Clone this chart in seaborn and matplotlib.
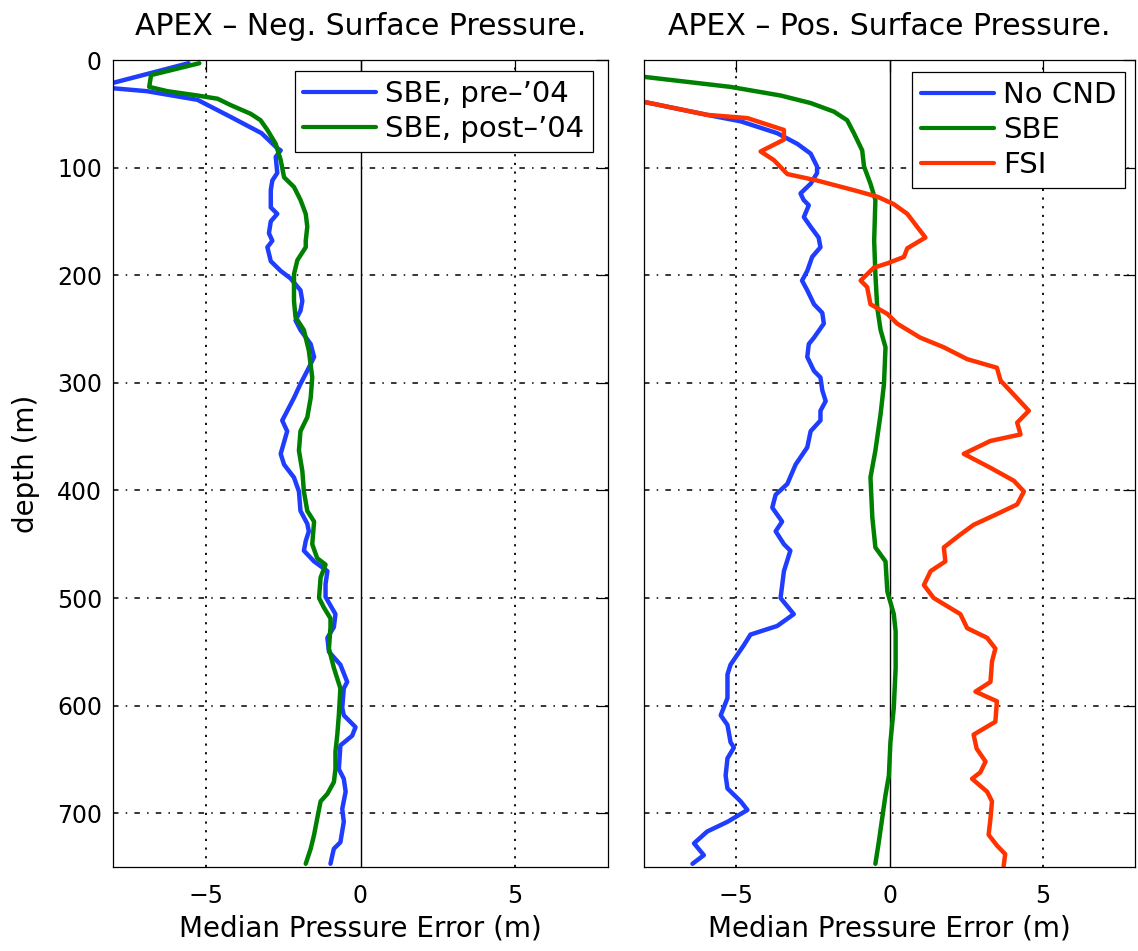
import matplotlib
matplotlib.use("Agg")
import matplotlib.pyplot as plt
import seaborn as sns

# --- left panel: APEX, negative surface pressure ---
neg_pre04_depth = [3, 25, 29, 37, 53, 68, 82, 84, 90, 105,
                   112, 121, 137, 143, 150, 161, 168, 174, 187, 196,
                   203, 214, 224, 233, 242, 251, 264, 276, 286, 301,
                   314, 329, 335, 345, 355, 366, 376, 388, 401, 419,
                   431, 438, 447, 456, 466, 475, 487, 499, 515, 527,
                   537, 550, 562, 578, 584, 602, 609, 620, 628, 637,
                   659, 668, 680, 696, 708, 727, 733, 739, 747]
neg_pre04_err = [-5.56, -8.5, -6.9, -5.27, -4.19, -3.2, -2.69, -2.58, -2.74, -2.69,
                 -2.85, -2.9, -2.9, -2.69, -2.9, -2.96, -2.85, -3.01, -2.9, -2.58,
                 -2.26, -1.94, -1.88, -1.94, -2.1, -1.94, -1.61, -1.5, -1.67, -1.94,
                 -2.15, -2.42, -2.53, -2.37, -2.47, -2.58, -2.47, -2.15, -1.99, -1.94,
                 -1.72, -1.67, -1.77, -1.83, -1.5, -1.07, -1.13, -1.13, -0.81, -0.86,
                 -1.07, -1.02, -0.65, -0.43, -0.54, -0.59, -0.54, -0.16, -0.27, -0.65,
                 -0.7, -0.54, -0.48, -0.59, -0.54, -0.65, -0.86, -0.91, -0.97]

neg_post04_depth = [3, 14, 25, 29, 33, 36, 42, 50, 56, 65,
                    78, 93, 109, 118, 130, 143, 155, 168, 174, 186,
                    199, 224, 239, 251, 270, 295, 314, 332, 345, 363,
                    382, 401, 419, 429, 450, 463, 469, 481, 500, 509,
                    519, 527, 547, 565, 584, 609, 627, 643, 659, 671,
                    682, 689, 705, 720, 733, 747]
neg_post04_err = [-5.21, -6.77, -6.83, -6.24, -5.27, -4.62, -4.19, -3.55, -3.23, -3.01,
                  -2.74, -2.58, -2.47, -2.15, -1.94, -1.77, -1.72, -1.77, -1.77, -2.04,
                  -2.15, -2.15, -2.1, -1.83, -1.67, -1.56, -1.61, -1.72, -1.94, -1.99,
                  -1.88, -1.83, -1.72, -1.5, -1.56, -1.4, -1.13, -1.29, -1.34, -1.18,
                  -0.97, -0.97, -1.02, -0.86, -0.65, -0.7, -0.75, -0.81, -0.81, -0.86,
                  -1.07, -1.29, -1.4, -1.5, -1.61, -1.77]

# --- right panel: APEX, positive surface pressure ---
pos_nocnd_depth = [36, 51, 57, 68, 78, 87, 99, 105, 115, 124,
                   130, 135, 146, 155, 165, 174, 183, 196, 205, 214,
                   227, 235, 245, 258, 264, 276, 289, 295, 307, 317,
                   326, 335, 345, 360, 376, 394, 404, 416, 429, 438,
                   450, 456, 475, 500, 515, 526, 534, 544, 562, 571,
                   593, 609, 618, 634, 639, 649, 665, 677, 689, 697,
                   708, 717, 728, 739, 747]
pos_nocnd_err = [-8.5, -5.94, -4.85, -3.66, -3.0, -2.57, -2.36, -2.36, -2.57, -2.9,
                 -2.8, -2.63, -2.79, -2.57, -2.31, -2.25, -2.52, -2.68, -2.85, -2.68,
                 -2.46, -2.19, -2.14, -2.46, -2.63, -2.68, -2.46, -2.25, -2.19, -2.08,
                 -2.25, -2.25, -2.57, -2.68, -3.06, -3.33, -3.71, -3.82, -3.5, -3.71,
                 -3.44, -3.23, -3.44, -3.55, -3.12, -3.66, -4.53, -4.75, -5.18, -5.28,
                 -5.28, -5.5, -5.28, -5.18, -5.07, -5.28, -5.34, -5.28, -4.85, -4.63,
                 -5.28, -5.94, -6.37, -6.05, -6.42]

pos_sbe_depth = [14, 25, 33, 40, 48, 56, 68, 84, 99, 115,
                 130, 168, 199, 230, 251, 267, 301, 329, 363, 388,
                 425, 453, 466, 494, 515, 531, 565, 602, 634, 665,
                 683, 705, 727, 747]
pos_sbe_err = [-8.5, -5.18, -3.55, -2.57, -1.81, -1.38, -1.16, -0.89, -0.83, -0.62,
               -0.46, -0.5, -0.46, -0.4, -0.29, -0.13, -0.18, -0.29, -0.46, -0.62,
               -0.56, -0.46, -0.13, -0.07, 0.14, 0.2, 0.2, 0.14, 0.03, -0.02,
               -0.13, -0.24, -0.35, -0.46]

pos_fsi_depth = [36, 51, 54, 64, 65, 74, 85, 93, 106, 112,
                 121, 127, 134, 143, 155, 165, 175, 183, 189, 193,
                 205, 211, 227, 236, 245, 258, 267, 278, 286, 298,
                 311, 326, 337, 348, 354, 366, 379, 391, 401, 413,
                 422, 432, 441, 453, 466, 475, 488, 500, 515, 528,
                 537, 547, 559, 578, 587, 596, 615, 627, 640, 652,
                 662, 668, 680, 689, 705, 720, 730, 738, 749]
pos_fsi_err = [-8.5, -5.94, -4.63, -3.55, -3.44, -3.44, -4.2, -3.77, -3.33, -2.36,
               -1.16, -0.4, 0.14, 0.58, 0.9, 1.17, 0.58, 0.47, -0.07, -0.51,
               -0.94, -0.73, -0.62, -0.07, 0.25, 1.0, 1.77, 2.53, 3.5, 3.62,
               4.05, 4.54, 4.16, 4.27, 3.29, 2.42, 3.29, 4.05, 4.38, 4.16,
               3.5, 2.74, 2.31, 1.77, 1.82, 1.34, 1.12, 1.44, 2.31, 2.53,
               3.18, 3.45, 3.34, 3.29, 2.8, 3.5, 3.45, 2.74, 2.84, 3.13,
               2.96, 2.69, 3.18, 3.34, 3.29, 3.23, 3.5, 3.77, 3.72]

titles = ["APEX \u2013 Neg. Surface Pressure.", "APEX \u2013 Pos. Surface Pressure."]
x_ticks = [-5, 0, 5]
y_ticks = [0, 100, 200, 300, 400, 500, 600, 700]

BLUE = "#1f3dff"
GREEN = "#008000"
RED = "#ff3300"

sns.set_style("white")
plt.rcParams["font.family"] = ["DejaVu Sans"]
plt.rcParams["text.color"] = "k"
plt.rcParams["axes.labelcolor"] = "k"

fig = plt.figure(figsize=(11.38, 9.51), dpi=100)
W, H = 1138, 951
ax_l = fig.add_axes([113 / W, (H - 867) / H, 495 / W, 807 / H])
ax_r = fig.add_axes([644 / W, (H - 867) / H, 491 / W, 807 / H])


def draw_series(ax, err, depth, color, label):
    sns.lineplot(x=err, y=depth, sort=False, orient="y", estimator=None,
                 color=color, lw=3.2, ax=ax, label=label)


draw_series(ax_l, neg_pre04_err, neg_pre04_depth, BLUE, "SBE, pre\u2013\u201904")
draw_series(ax_l, neg_post04_err, neg_post04_depth, GREEN, "SBE, post\u2013\u201904")
draw_series(ax_r, pos_nocnd_err, pos_nocnd_depth, BLUE, "No CND")
draw_series(ax_r, pos_sbe_err, pos_sbe_depth, GREEN, "SBE")
draw_series(ax_r, pos_fsi_err, pos_fsi_depth, RED, "FSI")

for ax, title in zip([ax_l, ax_r], titles):
    ax.set_xlim(-8, 8)
    ax.set_ylim(750, 0)
    ax.set_xticks(x_ticks)
    ax.set_yticks(y_ticks)
    ax.axvline(0, color="k", lw=1.0, zorder=1)
    for yv in y_ticks[1:]:
        ax.axhline(yv, color="k", lw=1.1, ls=(0, (3.6, 4.7, 1.0, 4.7)), zorder=0)
    for xv in [-5, 5]:
        ax.axvline(xv, color="k", lw=1.3, ls=(0, (1.2, 3.6)), zorder=0)
    ax.tick_params(direction="in", length=8.5, width=0.9, top=True, right=True,
                   labelsize=17, pad=8, colors="k")
    ax.tick_params(axis="x", pad=12)
    for sp in ax.spines.values():
        sp.set_color("k")
        sp.set_linewidth(0.9)
    ax.set_title(title, fontsize=21.5, pad=18)
    ax.set_xlabel("Median Pressure Error (m)", fontsize=20, labelpad=5)
    ax.set_ylabel("")

ax_l.set_ylabel("depth (m)", fontsize=20, labelpad=12)
ax_r.tick_params(labelleft=False)

leg_kw = dict(loc="upper right", fontsize=21, frameon=True, fancybox=False,
              framealpha=1, edgecolor="k", borderaxespad=0, handlelength=2.5,
              handletextpad=0.3, labelspacing=0.25, borderpad=0.3)
leg_l = ax_l.legend(bbox_to_anchor=(1 - 15 / 495, 1 - 11 / 807), **leg_kw)
leg_r = ax_r.legend(bbox_to_anchor=(1 - 10 / 491, 1 - 12 / 807), **leg_kw)
for leg in (leg_l, leg_r):
    leg.get_frame().set_linewidth(0.9)
    for line in leg.get_lines():
        line.set_linewidth(3)

fig.savefig("out.png", dpi=100)
